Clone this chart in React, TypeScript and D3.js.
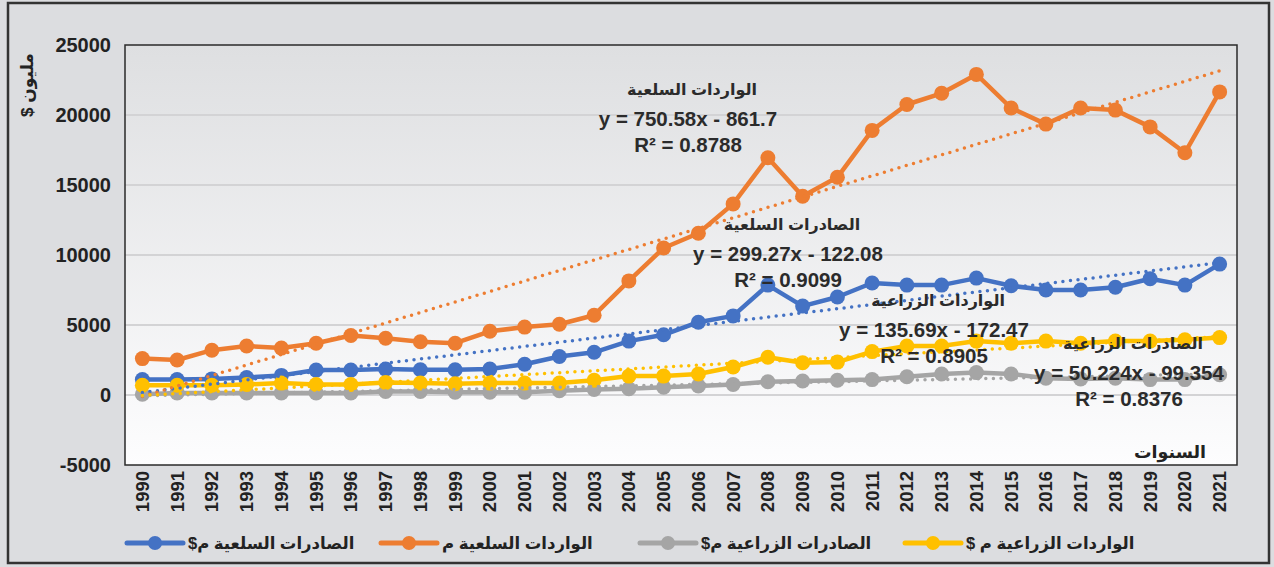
import { useMemo } from "react";
import { line as d3Line, scaleLinear, scalePoint } from "d3";

const years = [
  1990, 1991, 1992, 1993, 1994, 1995, 1996, 1997, 1998, 1999, 2000, 2001,
  2002, 2003, 2004, 2005, 2006, 2007, 2008, 2009, 2010, 2011, 2012, 2013,
  2014, 2015, 2016, 2017, 2018, 2019, 2020, 2021,
];

// الصادرات السلعية
const commodityExports = [
  1100, 1100, 1150, 1250, 1400, 1780, 1780, 1850, 1800, 1800, 1850, 2200,
  2750, 3050, 3850, 4300, 5200, 5650, 7850, 6350, 7000, 8000, 7850, 7850,
  8350, 7800, 7500, 7500, 7700, 8300, 7850, 9350,
];

// الواردات السلعية
const commodityImports = [
  2600, 2500, 3200, 3500, 3350, 3700, 4250, 4050, 3800, 3700, 4550, 4850,
  5050, 5700, 8150, 10500, 11550, 13650, 16950, 14200, 15550, 18900, 20750,
  21550, 22900, 20500, 19350, 20500, 20350, 19150, 17300, 21650,
];

// الصادرات الزراعية
const agriExports = [
  50, 150, 150, 150, 150, 150, 150, 250, 250, 200, 200, 200, 300, 400, 450,
  550, 650, 750, 950, 1000, 1050, 1100, 1300, 1500, 1600, 1500, 1200, 1150,
  1200, 1100, 1100, 1450,
];

// الواردات الزراعية
const agriImports = [
  700, 700, 700, 750, 850, 750, 750, 900, 850, 800, 850, 850, 850, 1050,
  1350, 1350, 1500, 2000, 2700, 2300, 2350, 3100, 3500, 3500, 3850, 3700,
  3850, 3700, 3850, 3850, 3950, 4100,
];

const seriesNames = [
  "الصادرات السلعية م$",
  "الواردات السلعية م",
  "الصادرات الزراعية م$",
  "الواردات الزراعية م $",
];
const seriesColors = ["#4472c4", "#ed7d31", "#a5a5a5", "#ffc000"];
const seriesValues = [commodityExports, commodityImports, agriExports, agriImports];

// trendline coefficients (slope, intercept) from the chart labels
const trendSlopes = [299.27, 750.58, 50.224, 135.69];
const trendIntercepts = [-122.08, -861.7, -99.354, -172.47];
const trendTitles = [
  "الصادرات السلعية",
  "الواردات السلعية",
  "الصادرات الزراعية",
  "الواردات الزراعية",
];
const trendEquations = [
  "y = 299.27x - 122.08",
  "y = 750.58x - 861.7",
  "y = 50.224x - 99.354",
  "y = 135.69x - 172.47",
];
const trendR2 = ["R² = 0.9099", "R² = 0.8788", "R² = 0.8376", "R² = 0.8905"];

const yTicks = [-5000, 0, 5000, 10000, 15000, 20000, 25000];

const W = 1274;
const H = 567;
const FONT = "'Liberation Sans', 'DejaVu Sans', sans-serif";

export default function App() {
  const m = { left: 125, right: 1237, top: 45, bottom: 465 };

  const { x, y, paths, trends } = useMemo(() => {
    const x = scalePoint<number>()
      .domain(years)
      .range([m.left, m.right])
      .padding(0.5);
    const y = scaleLinear().domain([-5000, 25000]).range([m.bottom, m.top]);
    const gen = d3Line<number>()
      .x((_, i) => x(years[i]) as number)
      .y((d) => y(d));
    const paths = seriesValues.map((vals) => gen(vals) ?? "");
    const trends = trendSlopes.map((a, k) => {
      const b = trendIntercepts[k];
      const n = years.length;
      return {
        x1: x(years[0]) as number,
        y1: y(a * 1 + b),
        x2: x(years[n - 1]) as number,
        y2: y(a * n + b),
      };
    });
    return { x, y, paths, trends };
  }, []);

  // label blocks: [centerX, firstBaseline] per series
  const labelPos = [
    [792, 230],
    [692, 95],
    [1133, 349],
    [938, 306],
  ];
  const legendStart = [127, 381, 640, 905];

  return (
    <svg
      width={W}
      height={H}
      style={{ position: "absolute", left: 0, top: 0, fontFamily: FONT }}
    >
      <defs>
        <linearGradient id="plotBg" x1="0" x2="0" y1="0" y2="1">
          <stop offset="0%" stopColor="#dedfe1" />
          <stop offset="100%" stopColor="#fdfdfe" />
        </linearGradient>
      </defs>
      <rect x={0} y={0} width={W} height={H} fill="#dcdde0" />
      <rect
        x={8}
        y={3}
        width={1261}
        height={560}
        fill="#dcdde0"
        stroke="#333"
        strokeWidth={2.5}
      />

      <rect
        x={m.left}
        y={m.top}
        width={m.right - m.left}
        height={m.bottom - m.top}
        fill="url(#plotBg)"
      />
      {yTicks.map((t) => (
        <g key={t}>
          {t > -5000 && t < 25000 && (
            <line
              x1={m.left}
              x2={m.right}
              y1={y(t)}
              y2={y(t)}
              stroke="#d3d3d5"
              strokeWidth={2}
            />
          )}
          <text
            x={111}
            y={y(t) + 7}
            textAnchor="end"
            fontSize={20}
            fontWeight="bold"
            fill="#222"
          >
            {t}
          </text>
        </g>
      ))}
      <rect
        x={m.left}
        y={m.top}
        width={m.right - m.left}
        height={m.bottom - m.top}
        fill="none"
        stroke="#2a2a2a"
        strokeWidth={1.5}
      />

      {years.map((yr) => (
        <text
          key={yr}
          transform={`translate(${(x(yr) as number) + 6.5}, 471) rotate(-90)`}
          textAnchor="end"
          fontSize={18.5}
          fontWeight="bold"
          fill="#222"
        >
          {yr}
        </text>
      ))}

      {paths.map((d, k) => (
        <g key={k}>
          <path
            d={d}
            fill="none"
            stroke={seriesColors[k]}
            strokeWidth={4.5}
            strokeLinejoin="round"
          />
          {seriesValues[k].map((v, i) => (
            <circle
              key={i}
              cx={x(years[i]) as number}
              cy={y(v)}
              r={7.5}
              fill={seriesColors[k]}
            />
          ))}
        </g>
      ))}

      {trends.map((t, k) => (
        <line
          key={k}
          x1={t.x1}
          y1={t.y1}
          x2={t.x2}
          y2={t.y2}
          stroke={seriesColors[k]}
          strokeWidth={3.5}
          strokeDasharray="0 7.6"
          strokeLinecap="round"
        />
      ))}

      {labelPos.map(([cx, by], k) => (
        <g key={k} fill="#2b2b2b" fontWeight="bold" textAnchor="middle">
          <text x={cx} y={by} fontSize={16} style={{ direction: "rtl" }}>
            {trendTitles[k]}
          </text>
          <text x={cx - 4} y={by + 31} fontSize={20.5}>
            {trendEquations[k]}
          </text>
          <text x={cx - 4} y={by + 57} fontSize={20.5}>
            {trendR2[k]}
          </text>
        </g>
      ))}

      <text
        x={1170}
        y={458}
        textAnchor="middle"
        fontSize={17.5}
        fontWeight="bold"
        fill="#222"
        style={{ direction: "rtl" }}
      >
        السنوات
      </text>
      <text
        transform="translate(33, 85) rotate(-90)"
        textAnchor="middle"
        fontSize={17}
        fontWeight="bold"
        fill="#222"
        style={{ direction: "rtl" }}
      >
        مليون $
      </text>

      {seriesNames.map((name, k) => {
        const x0 = legendStart[k];
        return (
          <g key={k}>
            <line
              x1={x0}
              x2={x0 + 56}
              y1={543}
              y2={543}
              stroke={seriesColors[k]}
              strokeWidth={5}
              strokeLinecap="round"
            />
            <circle cx={x0 + 28} cy={543} r={7} fill={seriesColors[k]} />
            <text
              x={x0 + 61}
              y={549}
              fontSize={16.5}
              fontWeight="bold"
              fill="#222"
              textAnchor="end"
              style={{ direction: "rtl" }}
            >
              {name}
            </text>
          </g>
        );
      })}
    </svg>
  );
}
